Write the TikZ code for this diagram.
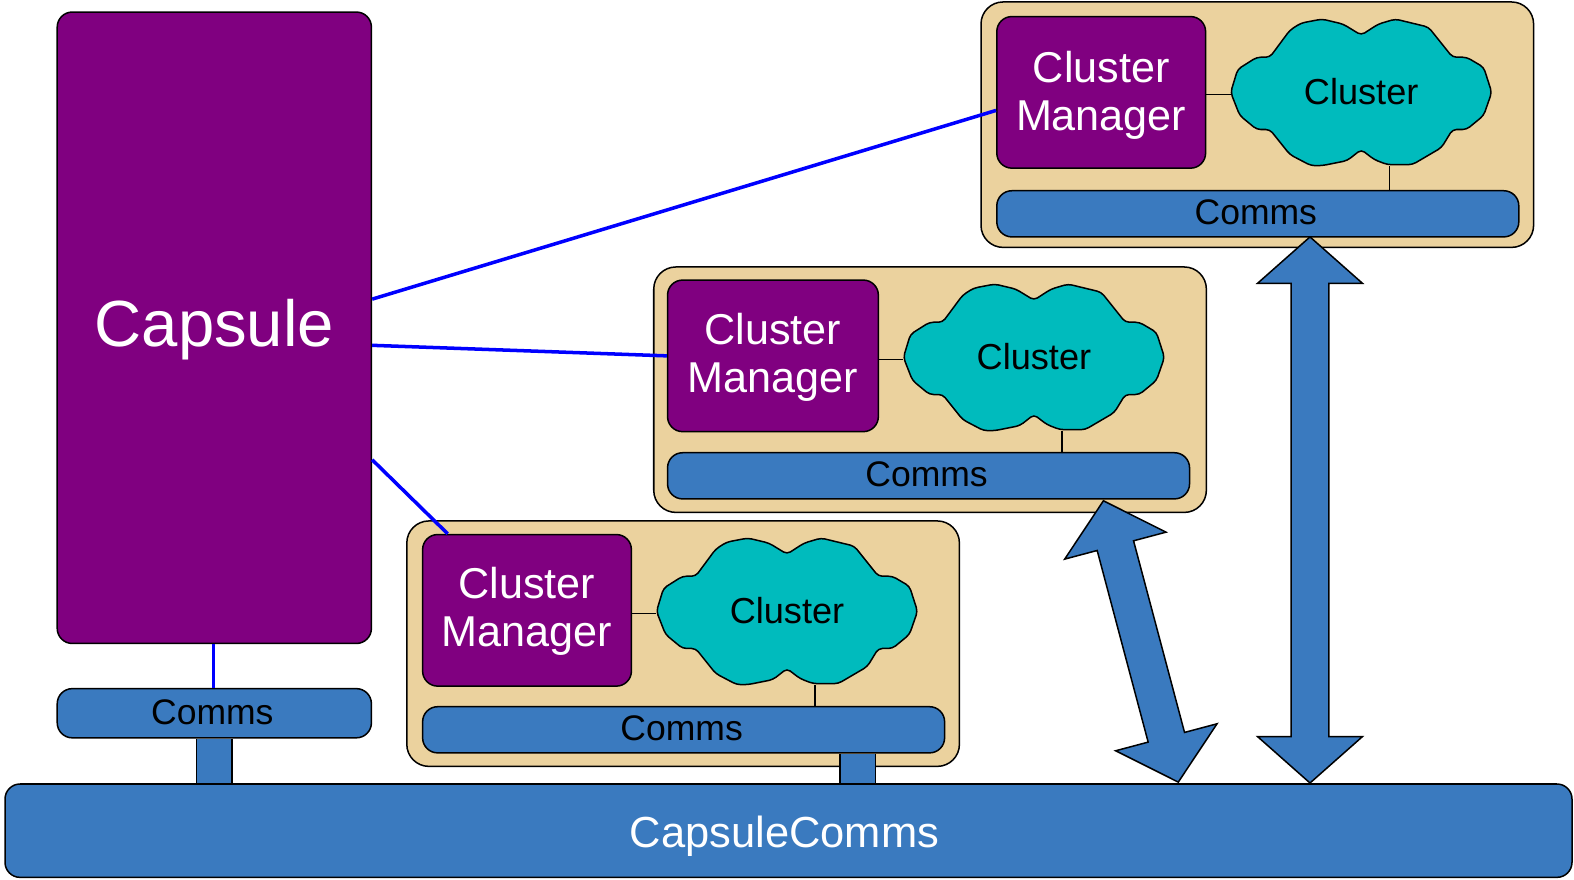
\documentclass[tikz,border=0pt]{standalone}
\usepackage{fontspec}
\setmainfont{Liberation Sans}
\usetikzlibrary{shapes.arrows}
\definecolor{capsulepurple}{HTML}{800080}
\definecolor{commsblue}{HTML}{3A7ABF}
\definecolor{clusterteal}{HTML}{00BBBD}
\definecolor{grouptan}{HTML}{EBD29E}
\newcommand{\commstext}{Comms\hspace*{4pt}}
\tikzset{
  box/.style={draw=black,line width=1.5pt,inner sep=0pt,align=center},
  groupbox/.style={box,fill=grouptan,rounded corners=22pt,minimum width=550.5pt,minimum height=244.5pt},
  purplebox/.style={box,fill=capsulepurple,text=white,rounded corners=15pt},
  mgrbox/.style={purplebox,minimum height=151pt,font=\fontsize{43}{48}\selectfont},
  commsbox/.style={box,fill=commsblue,rounded corners=15pt,text depth=3pt,font=\fontsize{35.4}{40}\selectfont},
  cloudline/.style={draw=black,line width=1.5pt,fill=clusterteal,rounded corners=4pt},
  cloudlabel/.style={inner sep=0pt,minimum width=260pt,minimum height=146pt,text depth=2pt,
    font=\fontsize{36}{40}\selectfont},
  thin link/.style={draw=black,line width=1.5pt},
  blue link/.style={draw=blue,line width=3.5pt},
  stub/.style={draw=black,line width=1.5pt,double=commsblue,double distance=34pt},
  bigarrow/.style={box,fill=commsblue,shape=double arrow,inner ysep=18pt,double arrow head extend=33.5pt,
    double arrow tip angle=97,minimum width=104pt},
}
\begin{document}
\begin{tikzpicture}
  [x=1pt,y=-1pt]
  \useasboundingbox (0,0) rectangle (1568,876);

  \node[purplebox,minimum width=313pt,minimum height=629pt,text depth=9.5pt,font=\fontsize{65}{70}\selectfont]
    (capsule) at (213.5,326.5) {Capsule};
  \node[commsbox,minimum width=313pt,minimum height=49pt] (capsulecomms) at (213.5,710.5) {\commstext};
  \node[commsbox,text=white,text depth=0pt,text height=34pt,minimum width=1561pt,minimum height=93pt,
    font=\fontsize{43.3}{48}\selectfont] (bus) at (785.5,827.5) {CapsuleComms\hspace*{8pt}};

  \foreach \n/\x/\y/\dx/\dy/\mw/\my/\gap in {a/977/2/16/211/208/90/37.5pt, b/651/266/14/208/210/88.5/34.5pt, c/405/519/16/208/208/89/33pt} {
    \begin{scope}[shift={(\x,\y)}]
      \node[groupbox] (group\n) at (275.5,122.2) {};
      \node[mgrbox,minimum width=\mw pt] (mgr\n) at (\dx+\mw/2,\my) {\rule{0pt}{\gap}Cluster\\Manager};
      \node[commsbox,minimum width=520pt,minimum height=46pt] (comms\n) at (\dx+260,\dy) {\commstext};
      \begin{scope}[shift={(379,90)}]
        \draw[cloudline] (0,-57) -- (17,-68) -- (34,-73) -- (67,-65) -- (91,-35) -- (105,-35)
          -- (122,-25) -- (130,0) -- (122,23) -- (105,37) -- (91,37) -- (80,55) -- (51,72)
          -- (26,72) -- (13,67) -- (0,57) -- (-14,68) -- (-39,73) -- (-50,73) -- (-71,62)
          -- (-91,37) -- (-104,37) -- (-121,23) -- (-130,0) -- (-123,-23) -- (-104,-35)
          -- (-91,-35) -- (-71,-62) -- (-60,-69) -- (-39,-73) -- (-18,-68) -- cycle;
        \node[cloudlabel] (cloud\n) at (0,0) {Cluster};
      \end{scope}
    \end{scope}
    \draw[thin link] ([yshift=-2]cloud\n.west -| mgr\n.east) -- ([yshift=-2]cloud\n.west);
    \draw[thin link] ([xshift=28]cloud\n.south) -- ([xshift=28]cloud\n.south |- comms\n.north);
  }

  \draw[blue link] ([yshift=28.5]capsule.east) -- ([yshift=-18]mgra.west);
  \draw[blue link] ([yshift=-17.5]capsule.east) -- (mgrb.west);
  \draw[blue link] ([yshift=-131.5]capsule.east) -- ([xshift=-79]mgrc.north);
  \draw[blue link] ([xshift=-1]capsule.south) -- ([xshift=-1]capsulecomms.north);

  \draw[stub] (capsulecomms.south) -- (capsulecomms.south |- bus.north);
  \draw[stub] ([xshift=173.5]commsc.south) -- ([xshift=173.5]commsc.south |- bus.north);

  \node[bigarrow,rotate=90,minimum height=544pt] (arrowa) at (1305,508) {};
  \node[bigarrow,rotate=104.9,minimum height=290pt] (arrowb) at (1136.5,639) {};
\end{tikzpicture}
\end{document}
